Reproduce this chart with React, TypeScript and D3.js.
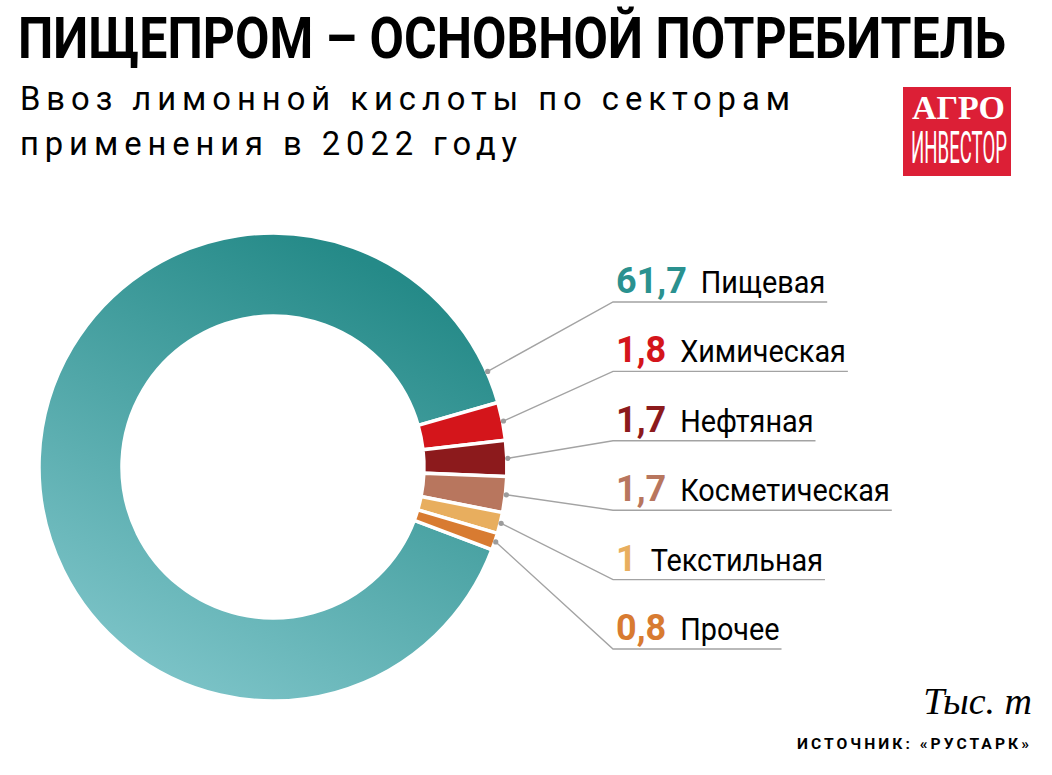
import React, { useEffect, useRef } from 'react';
import * as d3 from 'd3';

const sectors = ['Пищевая', 'Химическая', 'Нефтяная', 'Косметическая', 'Текстильная', 'Прочее'];
const values = [61.7, 1.8, 1.7, 1.7, 1, 0.8];
const valueLabels = ['61,7', '1,8', '1,7', '1,7', '1', '0,8'];
const colors = ['#2a918f', '#d4151b', '#8c1a1c', '#b8765e', '#e8ae5e', '#d87b31'];

const title = 'ПИЩЕПРОМ – ОСНОВНОЙ ПОТРЕБИТЕЛЬ';
const subtitle = ['Ввоз лимонной кислоты по секторам', 'применения в 2022 году'];
const unitLabel = 'Тыс. т';
const sourceLabel = 'ИСТОЧНИК: «РУСТАРК»';

const W = 1052, H = 775;

export default function App() {
  const ref = useRef<SVGSVGElement>(null);

  useEffect(() => {
    document.body.style.margin = '0';
    const svg = d3.select(ref.current);
    svg.selectAll('*').remove();

    // header
    svg.append('text')
      .attr('x', 18).attr('y', 58)
      .attr('font-family', 'Roboto').attr('font-weight', 700).attr('font-size', 58)
      .attr('textLength', 988).attr('lengthAdjust', 'spacingAndGlyphs')
      .attr('fill', '#000')
      .text(title);

    const subLens = [776, 503];
    subtitle.forEach((s, i) => {
      svg.append('text')
        .attr('x', 20).attr('y', 110 + i * 45)
        .attr('font-family', 'Roboto').attr('font-size', 33)
        .attr('letter-spacing', 6)
        .attr('textLength', subLens[i]).attr('lengthAdjust', 'spacingAndGlyphs')
        .attr('fill', '#000')
        .text(s);
    });

    // logo
    const logo = svg.append('g');
    logo.append('rect').attr('x', 903).attr('y', 87).attr('width', 108).attr('height', 89).attr('fill', '#dc1f36');
    logo.append('text')
      .attr('x', 912).attr('y', 119)
      .attr('font-family', 'Liberation Serif').attr('font-weight', 700).attr('font-size', 33)
      .attr('textLength', 93).attr('lengthAdjust', 'spacingAndGlyphs')
      .attr('fill', '#fff').text('АГРО');
    logo.append('text')
      .attr('x', 911).attr('y', 163)
      .attr('font-family', 'Roboto').attr('font-size', 44)
      .attr('textLength', 96).attr('lengthAdjust', 'spacingAndGlyphs')
      .attr('fill', '#fff').text('ИНВЕСТОР');

    // donut
    const cx = 273, cy = 467, rOuter = 234, rInner = 151;
    const total = d3.sum(values);
    const tealEnd = (74 * Math.PI) / 180;
    const start = tealEnd - (values[0] / total) * 2 * Math.PI;

    const pie = d3.pie<number>().sort(null).value(d => d)
      .startAngle(start).endAngle(start + 2 * Math.PI);
    const arcs = pie(values);
    const arc = d3.arc<d3.PieArcDatum<number>>().innerRadius(rInner).outerRadius(rOuter);

    // gradient coordinates are relative to the donut centre (path user space)
    const defs = svg.append('defs');
    const grad = defs.append('linearGradient')
      .attr('id', 'tealGrad').attr('gradientUnits', 'userSpaceOnUse')
      .attr('x1', 150).attr('y1', -175).attr('x2', -60).attr('y2', 230);
    grad.append('stop').attr('offset', '0%').attr('stop-color', '#258a88');
    grad.append('stop').attr('offset', '100%').attr('stop-color', '#7ac2c6');

    const donut = svg.append('g').attr('transform', `translate(${cx},${cy})`);
    donut.selectAll('path')
      .data(arcs)
      .enter().append('path')
      .attr('d', arc)
      .attr('fill', (d, i) => (i === 0 ? 'url(#tealGrad)' : colors[i]))
      .attr('stroke', '#fff')
      .attr('stroke-width', 3.5)
      .attr('stroke-linejoin', 'miter');

    // labels
    const rowY = d3.scaleLinear().domain([0, sectors.length - 1]).range([302, 649]);
    const lineX = 613;

    arcs.forEach((d, i) => {
      const a = i === 0 ? d.endAngle - (8 * Math.PI) / 180 : (d.startAngle + d.endAngle) / 2;
      const dx = cx + Math.sin(a) * (rOuter + 1);
      const dy = cy - Math.cos(a) * (rOuter + 1);
      const uy = rowY(i);

      const g = svg.append('g');
      const num = g.append('text')
        .attr('x', lineX + 3).attr('y', uy - 9)
        .attr('font-family', 'Roboto').attr('font-weight', 700).attr('font-size', 36)
        .attr('fill', colors[i])
        .text(valueLabels[i]);
      const nw = (num.node() as SVGTextElement).getComputedTextLength();
      const name = g.append('text')
        .attr('x', lineX + 3 + nw + 14).attr('y', uy - 9)
        .attr('font-family', 'Roboto').attr('font-size', 32)
        .attr('fill', '#000')
        .text(sectors[i]);
      const tw = (name.node() as SVGTextElement).getComputedTextLength() * 0.9;
      name.attr('textLength', tw).attr('lengthAdjust', 'spacingAndGlyphs');
      const endX = lineX + 3 + nw + 14 + tw + 2;

      g.append('path')
        .attr('d', `M${dx},${dy}L${lineX},${uy}L${endX},${uy}`)
        .attr('fill', 'none')
        .attr('stroke', '#a3a3a3')
        .attr('stroke-width', 1.4);
      g.append('circle').attr('cx', dx).attr('cy', dy).attr('r', 2.6).attr('fill', '#9c9c9c');
    });

    // footer
    svg.append('text')
      .attr('x', 1032).attr('y', 714)
      .attr('text-anchor', 'end')
      .attr('font-family', 'Liberation Serif').attr('font-style', 'italic').attr('font-size', 38)
      .attr('fill', '#000')
      .text(unitLabel);
    svg.append('text')
      .attr('x', 797).attr('y', 749)
      .attr('font-family', 'Roboto').attr('font-weight', 700).attr('font-size', 15.5)
      .attr('letter-spacing', 3)
      .attr('textLength', 235).attr('lengthAdjust', 'spacingAndGlyphs')
      .attr('fill', '#000')
      .text(sourceLabel);
  }, []);

  return <svg ref={ref} width={W} height={H} style={{ display: 'block', background: '#fff' }}></svg>;
}
